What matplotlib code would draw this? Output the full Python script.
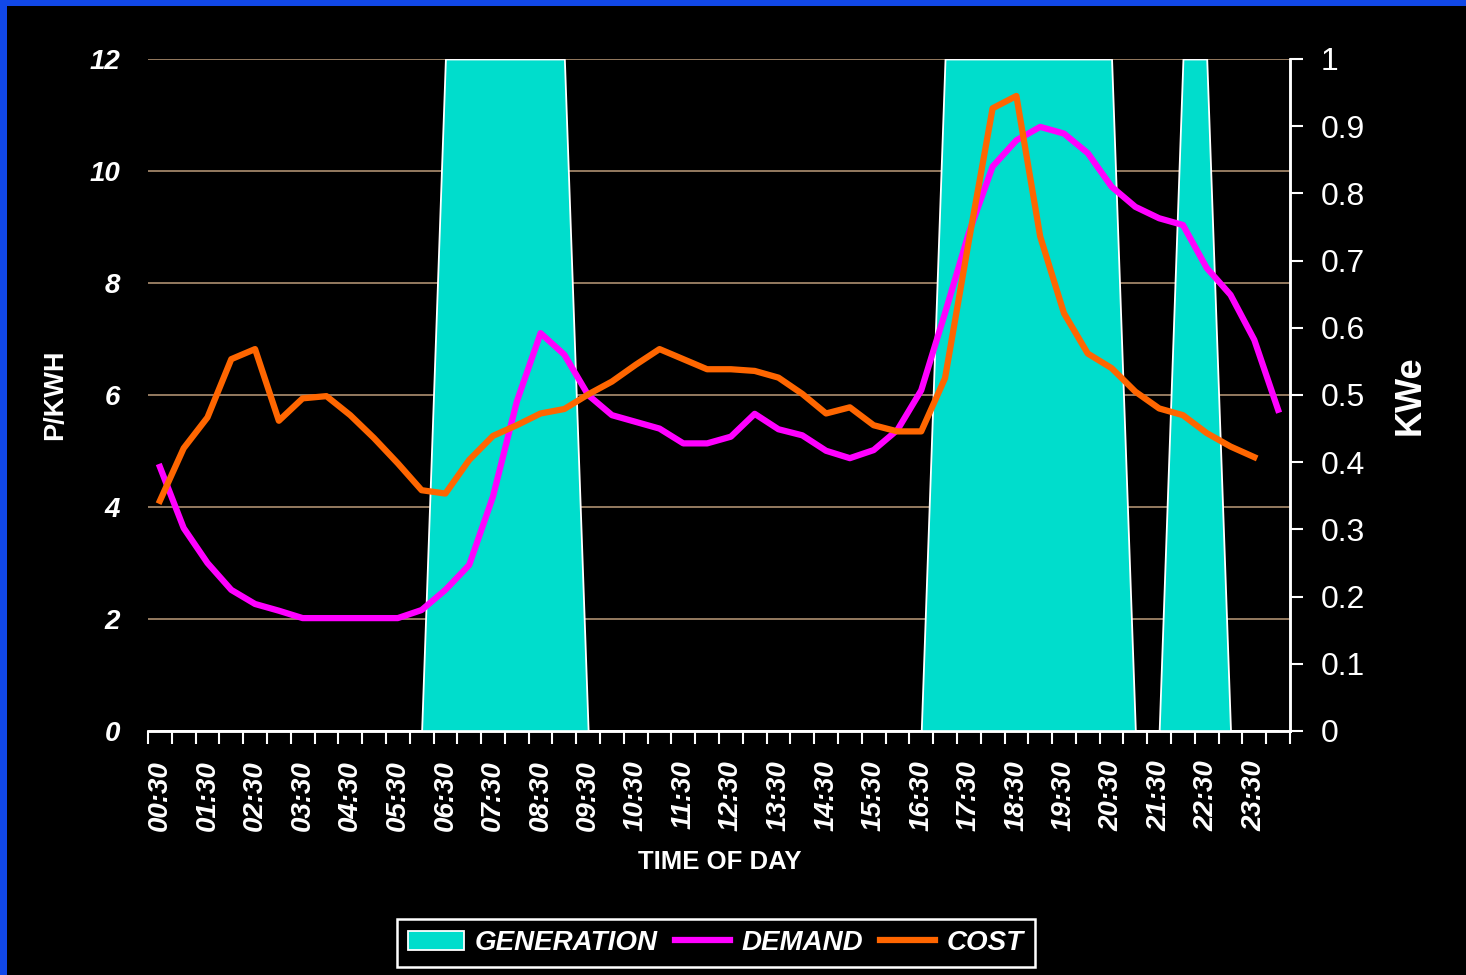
import matplotlib.pyplot as plt
from matplotlib.patches import Rectangle, Patch
from matplotlib.lines import Line2D

plt.rcParams['font.family'] = ['Liberation Sans', 'DejaVu Sans']

# half-hour slots, 00:30 .. 24:00
slots = ['00:30', '01:00', '01:30', '02:00', '02:30', '03:00', '03:30', '04:00',
         '04:30', '05:00', '05:30', '06:00', '06:30', '07:00', '07:30', '08:00',
         '08:30', '09:00', '09:30', '10:00', '10:30', '11:00', '11:30', '12:00',
         '12:30', '13:00', '13:30', '14:00', '14:30', '15:00', '15:30', '16:00',
         '16:30', '17:00', '17:30', '18:00', '18:30', '19:00', '19:30', '20:00',
         '20:30', '21:00', '21:30', '22:00', '22:30', '23:00', '23:30', '24:00']

# KWe (right axis)
generation = [0, 0, 0, 0, 0, 0, 0, 0, 0, 0, 0, 0,
              1, 1, 1, 1, 1, 1,
              0, 0, 0, 0, 0, 0, 0, 0, 0, 0, 0, 0, 0, 0, 0,
              1, 1, 1, 1, 1, 1, 1, 1,
              0, 0, 1, 1, 0, 0, 0]

demand = [0.393, 0.302, 0.250, 0.210, 0.189, 0.179, 0.168, 0.168, 0.168, 0.168,
          0.168, 0.180, 0.210, 0.247, 0.349, 0.490, 0.592, 0.560, 0.500, 0.470,
          0.460, 0.450, 0.428, 0.428, 0.438, 0.472, 0.449, 0.440, 0.417, 0.406,
          0.418, 0.448, 0.507, 0.622, 0.741, 0.840, 0.879, 0.899, 0.889, 0.860,
          0.810, 0.780, 0.763, 0.753, 0.689, 0.649, 0.582, 0.478]

# P/KWH (left axis), no value for the last slot
cost = [4.11, 5.05, 5.60, 6.64, 6.82, 5.54, 5.94, 5.98, 5.64, 5.23,
        4.78, 4.30, 4.24, 4.84, 5.27, 5.46, 5.67, 5.75, 6.01, 6.24,
        6.54, 6.82, 6.64, 6.46, 6.46, 6.43, 6.31, 6.02, 5.67, 5.78,
        5.46, 5.35, 5.35, 6.30, 8.75, 11.12, 11.34, 8.83, 7.46, 6.74,
        6.48, 6.06, 5.76, 5.64, 5.32, 5.08, 4.89]

CYAN = '#00DDCC'
MAGENTA = '#FF00FF'
ORANGE = '#FF6600'
GRID = '#A08468'

x = list(range(len(slots)))

fig = plt.figure(figsize=(14.66, 9.75), dpi=100, facecolor='black')
ax = fig.add_axes([148 / 1466, 1 - 731 / 975, 1142 / 1466, 672 / 975])
ax.set_facecolor('black')
ax2 = ax.twinx()

ax.set_xlim(-0.5, len(slots) - 0.5)
ax.set_ylim(0, 12)
ax2.set_ylim(0, 1)

# left axis: gridlines only
ax.set_yticks(range(0, 13, 2))
ax.yaxis.grid(True, color=GRID, linewidth=1.3)
ax.set_axisbelow(True)
ax.tick_params(axis='y', length=0, pad=20, labelcolor='white', labelsize=20)
for lbl in ax.get_yticklabels():
    lbl.set_fontweight('bold')
    lbl.set_fontstyle('italic')

# x axis: ticks on slot boundaries, labels every hour
ax.set_xticks([i - 0.5 for i in range(len(slots) + 1)])
ax.set_xticklabels([])
ax.set_xticks(x[::2], minor=True)
ax.set_xticklabels(slots[::2], minor=True, rotation=90, fontsize=20,
                   fontweight='bold', fontstyle='italic', color='white')
ax.tick_params(axis='x', which='major', direction='out', length=9, width=1.5,
               color='white')
ax.tick_params(axis='x', which='minor', length=0, pad=21)

for a in (ax, ax2):
    for side in ('left', 'top'):
        a.spines[side].set_visible(False)
    a.spines['bottom'].set_color('white')
    a.spines['bottom'].set_linewidth(1.8)
    a.spines['right'].set_color('white')
    a.spines['right'].set_linewidth(1.8)

ax2.set_yticks([i / 10 for i in range(11)])
ax2.set_yticklabels(['0', '0.1', '0.2', '0.3', '0.4', '0.5', '0.6', '0.7',
                     '0.8', '0.9', '1'])
ax2.tick_params(axis='y', direction='out', length=9, width=1.5, color='white',
                labelcolor='white', labelsize=23, pad=13)

# series
ax2.fill_between(x, 0, generation, facecolor=CYAN, edgecolor='white',
                 linewidth=1.3, zorder=1)
ax2.plot(x, demand, color=MAGENTA, linewidth=4.5, zorder=3)
ax2.plot(x[:len(cost)], cost, color=ORANGE, linewidth=4.5, zorder=4,
         transform=ax.transData)

# axis titles
ax.text(-0.0814, 0.5, 'P/KWH', transform=ax.transAxes, rotation=90,
        ha='center', va='center', color='white', fontsize=19.5,
        fontweight='bold')
ax.text(1.105, 0.5, 'KWe', transform=ax.transAxes, rotation=90,
        ha='center', va='center', color='white', fontsize=26,
        fontweight='bold')
ax.text(0.501, -0.195, 'TIME OF DAY', transform=ax.transAxes,
        ha='center', va='center', color='white', fontsize=18.5,
        fontweight='bold')

handles = [Patch(facecolor=CYAN, edgecolor='white', linewidth=1.3),
           Line2D([], [], color=MAGENTA, linewidth=4.5),
           Line2D([], [], color=ORANGE, linewidth=4.5)]
leg = fig.legend(handles, ['GENERATION', 'DEMAND', 'COST'], loc='center',
                 bbox_to_anchor=(716 / 1466, 1 - 943 / 975), ncol=3,
                 frameon=True, fancybox=False, framealpha=1,
                 facecolor='black', edgecolor='white', handlelength=2.0,
                 handletextpad=0.4, columnspacing=0.6, borderpad=0.4,
                 prop={'size': 20, 'weight': 'bold', 'style': 'italic'})
leg.get_frame().set_linewidth(1.8)
for t in leg.get_texts():
    t.set_color('white')

# blue frame on top and left edges
fig.patches.append(Rectangle((0, 1 - 6 / 975), 1, 6 / 975, transform=fig.transFigure,
                             facecolor='#1148E8', edgecolor='none', zorder=10))
fig.patches.append(Rectangle((0, 0), 7 / 1466, 1, transform=fig.transFigure,
                             facecolor='#1148E8', edgecolor='none', zorder=10))

fig.savefig('out.png', dpi=100, facecolor='black')
